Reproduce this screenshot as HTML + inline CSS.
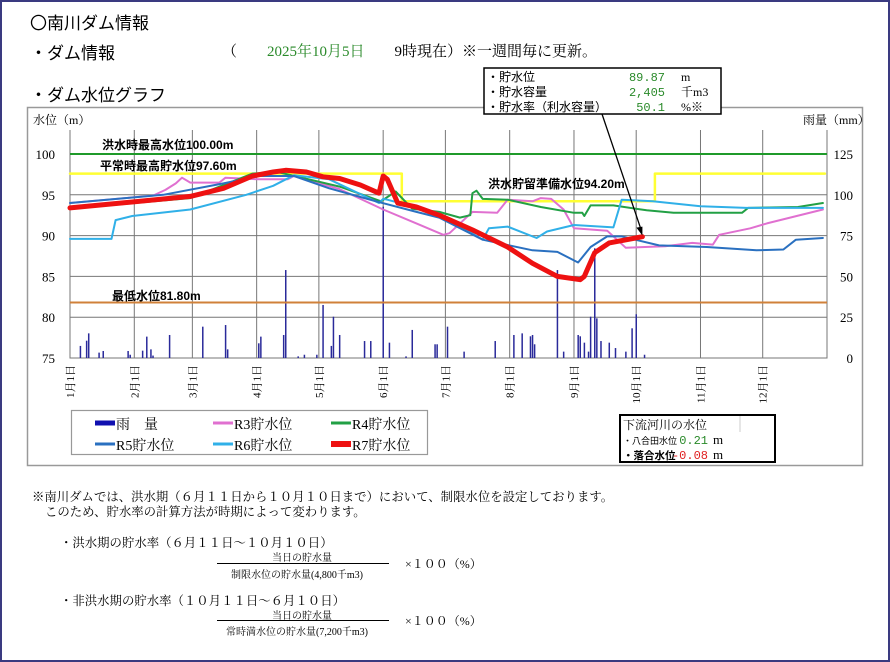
<!DOCTYPE html>
<html><head><meta charset="utf-8">
<style>
html,body{margin:0;padding:0;background:#fff;}
body{width:890px;height:662px;position:relative;overflow:hidden;font-family:"Liberation Serif","Noto Serif CJK SC",serif;}
#frame{position:absolute;left:0;top:0;width:886px;height:658px;border:2px solid #3a3a80;}
.t{position:absolute;white-space:nowrap;}
.g{font-family:"Liberation Sans","Noto Sans CJK JP",sans-serif;}
</style></head><body>
<div id="frame"></div>
<div class="t g" style="left:30px;top:9px;font-size:17px;">〇南川ダム情報</div>
<div class="t g" style="left:30px;top:39px;font-size:17px;">・ダム情報</div>
<div class="t" style="left:222px;top:40px;font-size:15px;">（　　<span style="color:#2a8a2a">2025年10月5日</span>　　9時現在）※一週間毎に更新。</div>
<div class="t g" style="left:30px;top:81px;font-size:17px;">・ダム水位グラフ</div>

<svg id="chart" width="890" height="662" style="position:absolute;left:0;top:0"></svg>

<div class="t" style="left:32px;top:487px;font-size:12.4px;">※南川ダムでは、洪水期（６月１１日から１０月１０日まで）において、制限水位を設定しております。</div>
<div class="t" style="left:45px;top:502px;font-size:12.4px;">このため、貯水率の計算方法が時期によって変わります。</div>
<div class="t" style="left:60px;top:533px;font-size:12.4px;">・洪水期の貯水率（６月１１日～１０月１０日）</div>
<div class="t" style="left:272px;top:549px;font-size:10px;">当日の貯水量</div>
<div style="position:absolute;left:217px;top:563px;width:172px;height:1px;background:#000"></div>
<div class="t" style="left:231px;top:566px;font-size:10px;">制限水位の貯水量(4,800千m3)</div>
<div class="t" style="left:405px;top:555px;font-size:12px;">×１００（%）</div>
<div class="t" style="left:60px;top:591px;font-size:12.4px;">・非洪水期の貯水率（１０月１１日～６月１０日）</div>
<div class="t" style="left:272px;top:607px;font-size:10px;">当日の貯水量</div>
<div style="position:absolute;left:217px;top:620px;width:172px;height:1px;background:#000"></div>
<div class="t" style="left:226px;top:623px;font-size:10px;">常時満水位の貯水量(7,200千m3)</div>
<div class="t" style="left:405px;top:612px;font-size:12px;">×１００（%）</div>

<script>
const monthLabels=["1月1日","2月1日","3月1日","4月1日","5月1日","6月1日","7月1日","8月1日","9月1日","10月1日","11月1日","12月1日"];
const monthStartDays=[0,31,59,90,120,151,181,212,243,273,304,334];
const levelTicks=[75,80,85,90,95,100];
const rainTicks=[0,25,50,75,100,125];
const rainDays=[5,8,9,14,16,28,29,35,37,39,40,48,64,75,76,91,92,103,104,110,113,119,122,126,127,130,142,145,151,154,162,165,176,177,182,190,205,214,218,222,223,224,235,238,245,246,248,250,251,253,254,256,260,263,268,271,273,277];
const rainValues=[7.4,10.6,15.1,3.3,4.3,4.3,2,4.5,13.1,5.3,1.5,14.1,19.2,20.2,5.3,9,13.1,14.1,53.9,1,2,2,32.5,7.4,25.3,14.1,10.4,10.4,92.7,9.4,1,17.2,8.4,8.4,19.2,3.9,10.4,14.1,15.1,13.3,14.1,8.4,53.9,3.9,14.1,13.3,9.4,3.9,25.3,67.2,24.3,10.4,9.4,6.1,3.9,18.2,26.8,2];
const r3Days=[0,40,46,51,54,58,72,75,91,105,108,130,151,167,180,183,194,206,211,223,227,232,238,243,259,268,287,300,310,313,328,336,363];
const r3Levels=[94.0,94.9,95.6,96.4,97.1,96.5,96.5,97.1,96.9,96.9,97.3,95.7,93.2,91.5,90.1,90.3,92.9,92.8,94.4,94.2,94.6,94.5,93.2,90.9,90.6,88.5,88.7,89.1,88.9,90.1,90.9,91.5,93.2];
const r4Days=[0,58,74,88,100,110,130,150,157,165,178,188,193,194,196,199,211,227,243,247,248,251,262,278,291,324,327,351,363];
const r4Levels=[93.3,94.6,96.2,97.6,97.8,97.2,96.0,94.2,95.4,93.3,92.9,92.2,92.5,95.2,95.5,94.5,94.4,93.5,92.8,92.8,92.4,93.7,93.7,93.1,92.8,92.8,93.4,93.5,94.0];
const r5Days=[0,45,74,91,108,125,149,167,178,199,223,235,245,251,259,266,284,307,331,344,350,363];
const r5Levels=[94.0,95.0,96.4,97.3,97.3,95.8,94.1,92.9,92.2,89.5,88.2,88.0,86.7,88.6,89.9,89.9,88.8,88.6,88.2,88.3,89.5,89.7];
const r6Days=[0,20,22,30,58,85,98,108,125,149,151,153,178,199,202,211,225,230,243,262,266,281,304,326,363];
const r6Levels=[89.6,89.6,91.9,92.4,93.2,95.0,96.1,97.4,96.9,94.0,94.5,94.4,92.7,89.5,90.9,91.1,89.7,90.5,91.3,91.0,94.4,94.2,93.6,93.4,93.4];
const r7Days=[0,58,74,88,98,104,114,122,130,140,149,151,153,158,167,178,194,211,223,235,246,248,253,260,276];
const r7Levels=[93.4,94.8,95.8,97.3,97.8,98.0,97.8,97.2,97.0,96.2,95.2,97.3,96.9,94.0,93.5,92.5,90.7,88.6,86.6,85.0,84.6,85.0,87.9,89.1,89.87];
const limitDays=[0,160,160,282,282,364];
const limitLevels=[97.6,97.6,94.2,94.2,97.6,97.6];
const floodMax=100.0, lowLevel=81.8;

const NS="http://www.w3.org/2000/svg";
const svg=document.getElementById('chart');
const X0=70,X1=827,YT=130;
function xDay(d){return X0+d*(X1-X0)/365;}
function yLev(v){return 154+(100-v)*8.16;}
function yRain(v){return 358-v*1.632;}
function mk(tag,attrs,parent){const e=document.createElementNS(NS,tag);for(const k in attrs)e.setAttribute(k,attrs[k]);(parent||svg).appendChild(e);return e;}
function txt(s,attrs,name){const e=mk('text',attrs);e.textContent=s;


return e;}

let e;
e=mk('rect',{x:27.5,y:107.5,width:835,height:358,fill:'none',stroke:'#999','stroke-width':1.5});


levelTicks.forEach(v=>{
  e=mk('line',{x1:X0,x2:X1,y1:yLev(v),y2:yLev(v),stroke:'#777','stroke-width':1});
  
  
  txt(String(v),{x:55,y:yLev(v)+5,'font-size':13,'text-anchor':'end','font-family':'Liberation Serif, serif'},'y-tick-label');
});
rainTicks.forEach(v=>{
  txt(String(v),{x:853,y:yRain(v)+5,'font-size':13,'text-anchor':'end','font-family':'Liberation Serif, serif'},'y2-tick-label');
});
monthStartDays.forEach((d,i)=>{
  const x=xDay(d);
  e=mk('line',{x1:x,x2:x,y1:YT,y2:358,stroke:'#777','stroke-width':1});
  
  
  txt(monthLabels[i],{x:0,y:0,'font-size':11,'text-anchor':'end',transform:`translate(${x+4},365) rotate(-90)`,'font-family':'Liberation Serif, Noto Serif CJK SC, serif'},'x-tick-label');
});
e=mk('path',{d:`M${X0},${YT}V358H${X1}V${YT}`,fill:'none',stroke:'#777','stroke-width':1});


txt('水位（m）',{x:33,y:124,'font-size':12,'font-family':'Liberation Serif, Noto Serif CJK SC, serif'},'y-axis-title');
txt('雨量（mm）',{x:803,y:124,'font-size':12,'font-family':'Liberation Serif, Noto Serif CJK SC, serif'},'y2-axis-title');
rainDays.forEach((d,i)=>{
  const y=yRain(rainValues[i]);
  e=mk('rect',{x:xDay(d)-0.7,y:y,width:1.5,height:358-y,fill:'#2a2a9a'});
  
  
});
e=mk('line',{x1:X0,x2:X1,y1:yLev(floodMax),y2:yLev(floodMax),stroke:'#1f9a2a','stroke-width':2});


e=mk('line',{x1:X0,x2:X1,y1:yLev(lowLevel),y2:yLev(lowLevel),stroke:'#d0813a','stroke-width':2});


function series(days,levels,color,w,name){
  const d=days.map((v,i)=>(i?'L':'M')+xDay(v).toFixed(1)+','+yLev(levels[i]).toFixed(1)).join('');
  const p=mk('path',{d:d,fill:'none',stroke:color,'stroke-width':w,'stroke-linejoin':'round','stroke-linecap':'round'});
  
  
}
series(limitDays,limitLevels,'#ffff33',2.5,'limit-level-line');
series(r3Days,r3Levels,'#e070d0',2,'r3-line');
series(r4Days,r4Levels,'#22a045',2,'r4-line');
series(r6Days,r6Levels,'#30b0e8',2,'r6-line');
series(r5Days,r5Levels,'#2a70c0',2,'r5-line');
series(r7Days,r7Levels,'#ee1111',5,'r7-line');
const lab={'font-size':12,'font-weight':'bold','font-family':'Liberation Sans, Noto Sans CJK JP, sans-serif'};
txt('洪水時最高水位100.00m',Object.assign({x:102,y:149},lab),'flood-max-label');
txt('平常時最高貯水位97.60m',Object.assign({x:100,y:170},lab),'normal-max-label');
txt('最低水位81.80m',Object.assign({x:112,y:300},lab),'min-level-label');
txt('洪水貯留準備水位94.20m',Object.assign({x:488,y:188},lab),'flood-prep-label');
const lastX=xDay(r7Days[r7Days.length-1]), lastY=yLev(r7Levels[r7Levels.length-1]);
e=mk('line',{x1:602,y1:114,x2:lastX-1,y2:lastY-6,stroke:'#000','stroke-width':1.3});


e=mk('path',{d:`M${lastX},${lastY-1}l-6,-8l6,-1z`,fill:'#000'});


e=mk('rect',{x:484,y:68,width:237,height:46,fill:'#fff',stroke:'#000','stroke-width':1.5});


const infoLabels=['・貯水位','・貯水容量','・貯水率（利水容量）'];
const infoValues=['89.87','2,405','50.1'];
const infoUnits=['m','千m3','%※'];
infoLabels.forEach((s,i)=>{
  const y=81+i*15;
  txt(s,{x:487,y:y,'font-size':12,'font-family':'Liberation Sans, Noto Sans CJK JP, sans-serif'},'info-label');
  txt(infoValues[i],{x:665,y:y,'font-size':12,'text-anchor':'end',fill:'#2a8a2a','font-family':'Liberation Mono, monospace'},'info-value');
  txt(infoUnits[i],{x:681,y:y,'font-size':12,'font-family':'Liberation Serif, Noto Serif CJK SC, serif'},'info-unit');
});
e=mk('rect',{x:71.5,y:410.5,width:356,height:44,fill:'#fff',stroke:'#999','stroke-width':1.2});


const legNames=['雨　量','R3貯水位','R4貯水位','R5貯水位','R6貯水位','R7貯水位'];
const legColors=['#1010b0','#e070d0','#22a045','#2a70c0','#30b0e8','#ee1111'];
const legW=[5,3,3,3,3,6];
legNames.forEach((s,i)=>{
  const cx=95+(i%3)*118, cy=423+Math.floor(i/3)*21;
  e=mk('line',{x1:cx,x2:cx+20,y1:cy,y2:cy,stroke:legColors[i],'stroke-width':legW[i]});
  
  
  txt(s,{x:cx+21,y:cy+6,'font-size':14,'font-family':'Liberation Serif, Noto Serif CJK SC, serif'},'legend-entry');
});
e=mk('rect',{x:620,y:415,width:155,height:47,fill:'#fff',stroke:'#000','stroke-width':2});


e=mk('line',{x1:740,x2:740,y1:416,y2:432,stroke:'#ccc','stroke-width':1});


txt('下流河川の水位',{x:623,y:429,'font-size':12,'font-family':'Liberation Serif, Noto Serif CJK SC, serif'},'downstream-title');
txt('・八合田水位',{x:623,y:444,'font-size':9,'font-family':'Liberation Sans, Noto Sans CJK JP, sans-serif'},'hachigoda-label');
txt('0.21',{x:708,y:444,'font-size':12,'text-anchor':'end',fill:'#2a8a2a','font-family':'Liberation Mono, monospace'},'hachigoda-value');
txt('m',{x:713,y:444,'font-size':13,'font-family':'Liberation Serif, serif'},'hachigoda-unit');
txt('・落合水位',{x:623,y:459,'font-size':10.5,'font-weight':'bold','font-family':'Liberation Sans, Noto Sans CJK JP, sans-serif'},'ochiai-label');
txt('-0.08',{x:708,y:459,'font-size':12,'text-anchor':'end',fill:'#e02020','font-family':'Liberation Mono, monospace'},'ochiai-value');
txt('m',{x:713,y:459,'font-size':13,'font-family':'Liberation Serif, serif'},'ochiai-unit');
</script>
</body></html>
